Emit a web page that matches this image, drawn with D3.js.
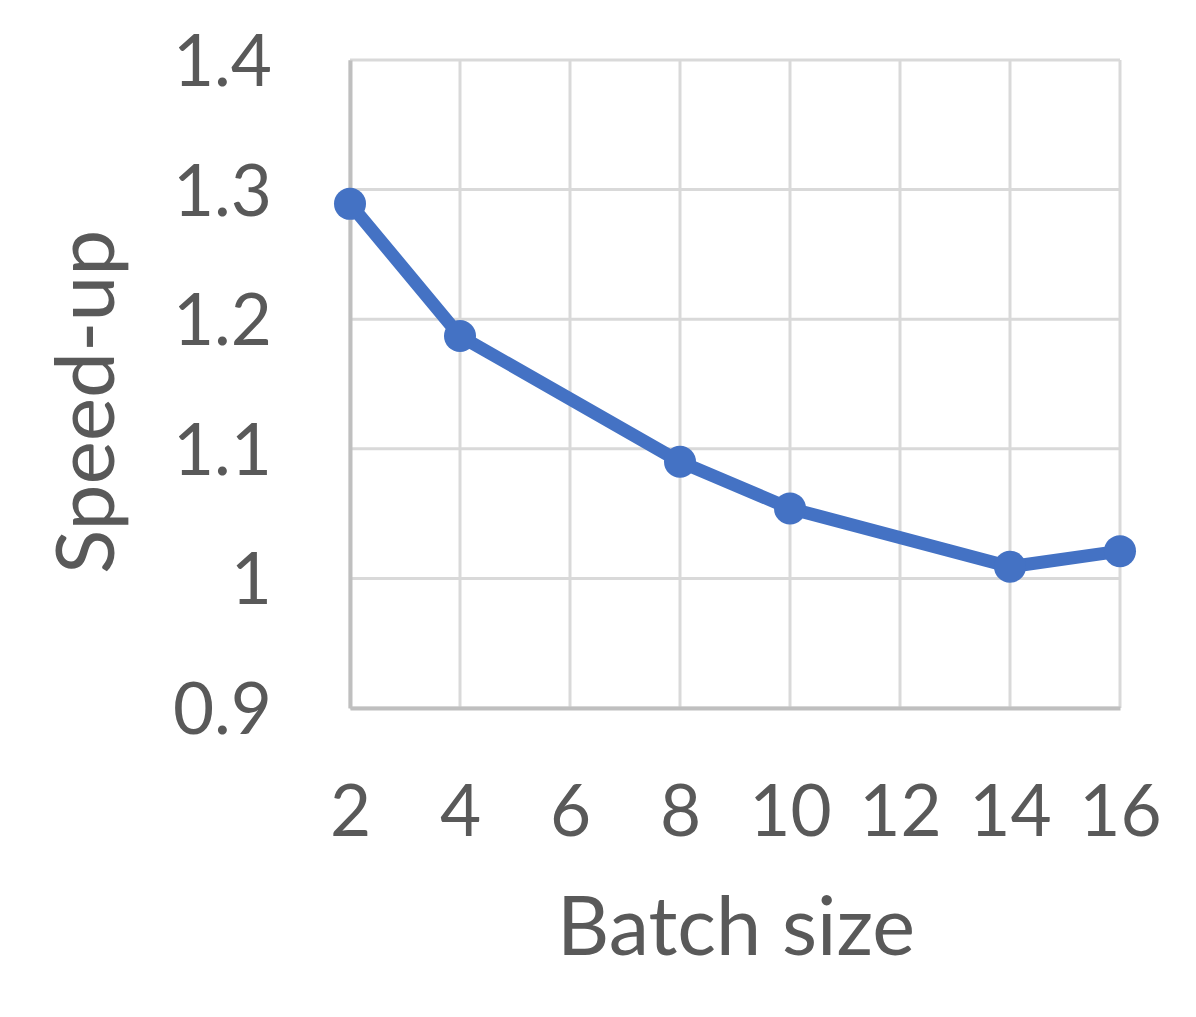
<!DOCTYPE html>
<html>
<head>
<meta charset="utf-8">
<script src="https://cdn.jsdelivr.net/npm/d3@7"></script>
<style>
  body { margin: 0; background: #fff; }
</style>
</head>
<body>
<div class="canvas"></div>
<script>
// data
const batchSizes = [2, 4, 8, 10, 14, 16];
const speedUps = [1.289, 1.187, 1.090, 1.054, 1.009, 1.021];
const xTicks = [2, 4, 6, 8, 10, 12, 14, 16];
const yTicks = [0.9, 1.0, 1.1, 1.2, 1.3, 1.4];

const width = 1196;
const height = 1017;
const margin = {top: 60, right: 76, bottom: 309, left: 350};

const svg = d3.select('.canvas')
    .append('svg')
        .attr('width', width)
        .attr('height', height);

const x = d3.scaleLinear()
    .domain([2, 16])
    .range([margin.left, width - margin.right]);

const y = d3.scaleLinear()
    .domain([0.9, 1.4])
    .range([height - margin.bottom, margin.top]);

const font = 'Lato, "Open Sans", sans-serif';
const textColour = '#595959';

// gridlines
svg.append('g')
    .selectAll('line.h-grid')
    .data(yTicks)
    .enter()
    .append('line')
    .attr('class', 'h-grid')
    .attr('x1', x(2))
    .attr('x2', x(16))
    .attr('y1', d => y(d))
    .attr('y2', d => y(d))
    .attr('stroke', '#d9d9d9')
    .attr('stroke-width', 3);

svg.append('g')
    .selectAll('line.v-grid')
    .data(xTicks)
    .enter()
    .append('line')
    .attr('class', 'v-grid')
    .attr('x1', d => x(d))
    .attr('x2', d => x(d))
    .attr('y1', y(1.4))
    .attr('y2', y(0.9))
    .attr('stroke', '#d9d9d9')
    .attr('stroke-width', 3);

// axes
const xAxis = d3.axisBottom(x)
    .tickValues(xTicks)
    .tickSize(0)
    .tickPadding(78)
    .tickFormat(d3.format('d'));

const yAxis = d3.axisLeft(y)
    .tickValues(yTicks)
    .tickSize(0)
    .tickPadding(78)
    .tickFormat(d => d === 1 ? '1' : d3.format('.1f')(d));

const gx = svg.append('g')
    .attr('transform', `translate(0, ${y(0.9)})`)
    .call(xAxis);

const gy = svg.append('g')
    .attr('transform', `translate(${x(2)}, 0)`)
    .call(yAxis);

gx.select('.domain')
    .attr('stroke', '#bfbfbf')
    .attr('stroke-width', 4);
gy.select('.domain')
    .attr('stroke', '#bfbfbf')
    .attr('stroke-width', 4);

gx.selectAll('text')
    .attr('font-family', font)
    .attr('font-size', 71)
    .attr('fill', textColour)
    .attr('dy', '0.71em');

gy.selectAll('text')
    .attr('font-family', font)
    .attr('font-size', 71)
    .attr('fill', textColour)
    .attr('dy', '0.36em');

// axis titles
svg.append('text')
    .attr('x', 736)
    .attr('y', 955)
    .attr('font-family', font)
    .attr('font-size', 81)
    .attr('fill', textColour)
    .attr('text-anchor', 'middle')
    .text('Batch size');

svg.append('text')
    .attr('transform', `translate(114, ${y(1.15) + 18}) rotate(-90)`)
    .attr('font-family', font)
    .attr('font-size', 82)
    .attr('fill', textColour)
    .attr('text-anchor', 'middle')
    .text('Speed-up');

// series
const points = batchSizes.map((b, i) => ({b: b, s: speedUps[i]}));

const line = d3.line()
    .x(d => x(d.b))
    .y(d => y(d.s));

svg.append('path')
    .datum(points)
    .attr('fill', 'none')
    .attr('stroke', '#4472c4')
    .attr('stroke-width', 13)
    .attr('stroke-linejoin', 'round')
    .attr('d', line);

svg.append('g')
    .selectAll('circle')
    .data(points)
    .enter()
    .append('circle')
    .attr('cx', d => x(d.b))
    .attr('cy', d => y(d.s))
    .attr('r', 16)
    .attr('fill', '#4472c4');
</script>
</body>
</html>
